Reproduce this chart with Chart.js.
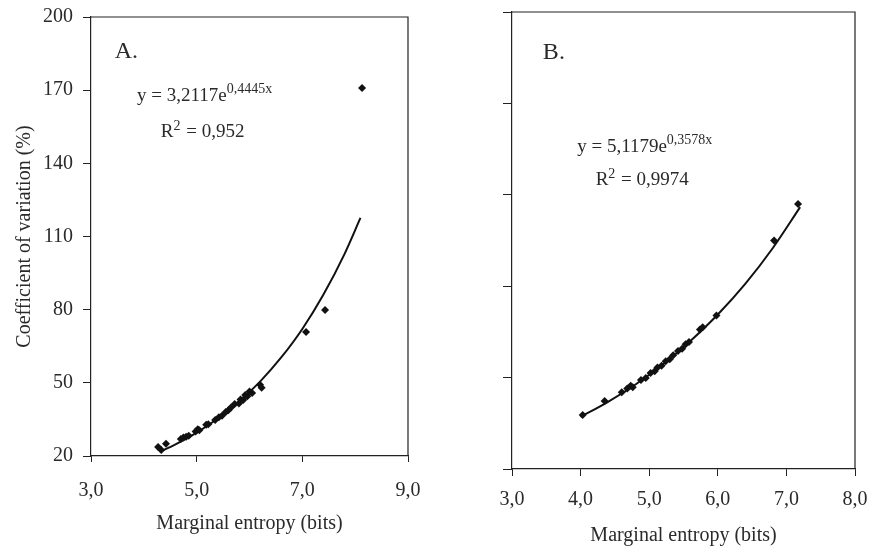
<!DOCTYPE html>
<html>
<head>
<meta charset="utf-8">
<script src="https://cdn.jsdelivr.net/npm/chart.js@4/dist/chart.umd.min.js"></script>
<style>
    body { margin: 0; background: #fff; }
    #graficoA { position: absolute; left: 0; top: 0; }
    #graficoB { position: absolute; left: 436px; top: 0; }
</style>
</head>
<body>
<canvas id="graficoA" width="436" height="550"></canvas>
<canvas id="graficoB" width="437" height="550"></canvas>
<script>
// Dados do painel A
const entropiaA = [4.27, 4.33, 4.42, 4.70, 4.75, 4.80, 4.85, 4.98, 5.02, 5.05, 5.18, 5.22, 5.35, 5.42, 5.48,
    5.55, 5.60, 5.65, 5.72, 5.80, 5.83, 5.88, 5.92, 5.96, 6.00, 6.05, 6.20, 6.23, 7.07, 7.43, 8.13];
const cvA = [23.7, 22.5, 25.0, 27.0, 27.6, 27.9, 28.3, 30.0, 31.0, 30.6, 32.8, 33.0, 34.8, 35.9, 36.5,
    38.0, 38.8, 39.9, 41.3, 41.5, 43.2, 43.0, 45.0, 44.5, 46.4, 45.8, 49.2, 48.0, 70.8, 79.9, 170.9];
// linha de tendencia A (y = 3,2117e^0,4445x)
const curvaXA = [4.3, 4.6, 5.0, 5.4, 5.8, 6.2, 6.6, 7.0, 7.4, 7.8, 8.1];
const curvaYA = [21.7, 24.8, 29.6, 35.4, 42.3, 50.5, 60.4, 72.1, 86.2, 102.9, 117.6];
const ticksXA = [3, 5, 7, 9];
const ticksYA = [20, 50, 80, 110, 140, 170, 200];

// Dados do painel B
const entropiaB = [4.03, 4.35, 4.60, 4.68, 4.73, 4.76, 4.88, 4.95, 5.02, 5.08, 5.12, 5.18, 5.24, 5.30, 5.35,
    5.42, 5.48, 5.53, 5.58, 5.74, 5.78, 5.98, 6.82, 7.17];
const cvB = [21.8, 24.9, 26.8, 27.6, 28.2, 27.9, 29.5, 29.9, 31.0, 31.4, 32.2, 32.6, 33.6, 34.0, 34.9,
    35.8, 36.3, 37.3, 37.8, 40.5, 41.0, 43.6, 60.0, 68.0];
// linha de tendencia B (y = 5,1179e^0,3578x)
const curvaXB = [4.0, 4.4, 4.8, 5.2, 5.6, 6.0, 6.4, 6.8, 7.2];
const curvaYB = [21.4, 24.7, 28.5, 32.9, 38.0, 43.8, 50.5, 58.3, 67.3];
const ticksXB = [3, 4, 5, 6, 7, 8];
const ticksYB = [10, 30, 50, 70, 90, 110];

const fonte = 'Liberation Serif, Times New Roman, serif';
const corTexto = '#2a2a2a';
const corLinha = '#222';

function juntar(xs, ys) {
    return xs.map(function (x, i) { return { x: x, y: ys[i] }; });
}

function formatarVirgula(v) {
    return v.toFixed(1).replace('.', ',');
}

// plugin que desenha a moldura e os textos (equacoes)
const pluginMoldura = {
    id: 'moldura',
    afterDraw: function (chart, args, opts) {
        const ctx = chart.ctx;
        const area = chart.chartArea;
        ctx.save();
        ctx.strokeStyle = corLinha;
        ctx.lineWidth = 1.2;
        ctx.beginPath();
        ctx.moveTo(area.left, area.top);
        ctx.lineTo(area.right, area.top);
        ctx.lineTo(area.right, area.bottom);
        ctx.stroke();

        ctx.fillStyle = corTexto;
        ctx.textBaseline = 'middle';
        ctx.textAlign = 'left';
        (opts.textos || []).forEach(function (t) {
            let px = chart.scales.x.getPixelForValue(t.x);
            const py = chart.scales.y.getPixelForValue(t.y);
            t.partes.forEach(function (p) {
                ctx.font = (p.sup ? '14px ' : (t.tam || 19) + 'px ') + fonte;
                ctx.fillText(p.txt, px, p.sup ? py - 6 : py);
                px += ctx.measureText(p.txt).width + (p.sup ? 1 : 0);
            });
        });
        ctx.restore();
    }
};

function plotarGrafico(id, pontos, curva, cfg) {
    const dados = {
        datasets: [{
            label: 'pontos',
            data: pontos,
            pointStyle: 'rectRot',
            pointRadius: 4,
            backgroundColor: '#111',
            borderColor: '#111',
            borderWidth: 0
        }, {
            label: 'tendencia',
            data: curva,
            showLine: true,
            pointRadius: 0,
            borderColor: '#111',
            borderWidth: 2,
            cubicInterpolationMode: 'monotone'
        }]
    };

    const config = {
        type: 'scatter',
        data: dados,
        options: {
            responsive: false,
            animation: false,
            layout: { padding: cfg.padding },
            plugins: {
                legend: { display: false },
                tooltip: { enabled: false },
                moldura: { textos: cfg.textos }
            },
            scales: {
                x: {
                    type: 'linear',
                    min: cfg.ticksX[0],
                    max: cfg.ticksX[cfg.ticksX.length - 1],
                    afterBuildTicks: function (s) { s.ticks = cfg.ticksX.map(function (v) { return { value: v }; }); },
                    afterFit: function (s) {
                        s.height = cfg.alturaX;
                        s.paddingLeft = 0;
                        s.paddingRight = 0;
                    },
                    grid: { drawOnChartArea: false, drawTicks: true, tickLength: cfg.tickX, color: corLinha },
                    border: { color: corLinha, width: 1.2 },
                    ticks: {
                        padding: cfg.padX,
                        color: corTexto,
                        font: { family: fonte, size: 20 },
                        maxRotation: 0,
                        callback: function (v) { return formatarVirgula(v); }
                    },
                    title: {
                        display: true,
                        text: 'Marginal entropy (bits)',
                        color: corTexto,
                        font: { family: fonte, size: 20 },
                        padding: { top: 0, bottom: cfg.padTituloX }
                    }
                },
                y: {
                    type: 'linear',
                    min: cfg.ticksY[0],
                    max: cfg.ticksY[cfg.ticksY.length - 1],
                    afterBuildTicks: function (s) { s.ticks = cfg.ticksY.map(function (v) { return { value: v }; }); },
                    afterFit: function (s) {
                        s.width = cfg.larguraY;
                        s.paddingTop = 0;
                        s.paddingBottom = 0;
                    },
                    grid: { drawOnChartArea: false, drawTicks: true, tickLength: cfg.tickY, color: corLinha },
                    border: { color: corLinha, width: 1.2 },
                    ticks: {
                        display: cfg.mostrarY,
                        padding: 10,
                        color: corTexto,
                        font: { family: fonte, size: 20 }
                    },
                    title: {
                        display: cfg.mostrarY,
                        text: 'Coefficient of variation (%)',
                        color: corTexto,
                        font: { family: fonte, size: 20 },
                        padding: { top: 13, bottom: 0 }
                    }
                }
            }
        },
        plugins: [pluginMoldura]
    };

    return new Chart(document.getElementById(id), config);
}

plotarGrafico('graficoA', juntar(entropiaA, cvA), juntar(curvaXA, curvaYA), {
    ticksX: ticksXA, ticksY: ticksYA,
    padding: { top: 17, right: 28, left: 0, bottom: 0 },
    alturaX: 94, larguraY: 91, tickX: 6, tickY: 8, padX: 17, padTituloX: 14, mostrarY: true,
    textos: [
        { x: 3.45, y: 185.6, tam: 24, partes: [{ txt: 'A.' }] },
        { x: 3.87, y: 167.8, partes: [{ txt: 'y = 3,2117e' }, { txt: '0,4445x', sup: true }] },
        { x: 4.32, y: 152.8, partes: [{ txt: 'R' }, { txt: '2', sup: true }, { txt: ' = 0,952' }] }
    ]
});

plotarGrafico('graficoB', juntar(entropiaB, cvB), juntar(curvaXB, curvaYB), {
    ticksX: ticksXB, ticksY: ticksYB,
    padding: { top: 12, right: 18, left: 0, bottom: 0 },
    alturaX: 81, larguraY: 76, tickX: 7, tickY: 9, padX: 12, padTituloX: 2, mostrarY: false,
    textos: [
        { x: 3.45, y: 101.2, tam: 24, partes: [{ txt: 'B.' }] },
        { x: 3.95, y: 80.5, partes: [{ txt: 'y = 5,1179e' }, { txt: '0,3578x', sup: true }] },
        { x: 4.22, y: 73.2, partes: [{ txt: 'R' }, { txt: '2', sup: true }, { txt: ' = 0,9974' }] }
    ]
});
</script>
</body>
</html>
